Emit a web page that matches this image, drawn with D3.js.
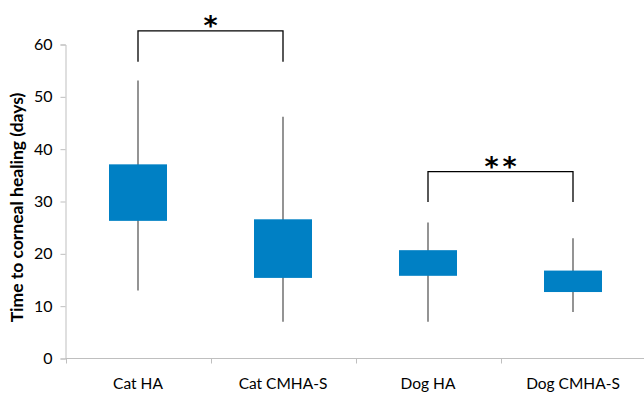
<!DOCTYPE html>
<html>
<head>
<meta charset="utf-8">
<script src="https://cdn.jsdelivr.net/npm/d3@7"></script>
<style>
	body { margin: 0; background: #fff; }
	svg { display: block; }
</style>
</head>
<body>
<div id="chart"></div>
<script>
var groups = ["Cat HA", "Cat CMHA-S", "Dog HA", "Dog CMHA-S"];
var whiskerLow = [13, 7, 7, 8.9];
var boxLow = [26.3, 15.4, 15.8, 12.7];
var boxHigh = [37.1, 26.6, 20.7, 16.8];
var whiskerHigh = [53.1, 46.2, 26, 23];
var yTicks = [0, 10, 20, 30, 40, 50, 60];

// significance brackets: from group, to group, top, leg bottom, number of stars
var brackets = [
	{ from: "Cat HA", to: "Cat CMHA-S", top: 62.6, low: 56.7, stars: 1 },
	{ from: "Dog HA", to: "Dog CMHA-S", top: 35.7, low: 29.9, stars: 2 }
];

var width = 644,
	height = 394,
	x0 = 65.5,
	xEnd = 645.5,
	yTop = 44.5,
	yBot = 358.5;

var svg = d3.select("#chart")
	.append("svg")
	.attr("width", width)
	.attr("height", height)
	.style("font-family", "Lato, 'Open Sans', sans-serif");

var x = d3.scaleBand().domain(groups).range([x0, xEnd]);
var y = d3.scaleLinear().domain([0, 60]).range([yBot, yTop]);

var axisColor = "#bfbfbf";

// y axis
var yAxis = svg.append("g")
	.attr("transform", "translate(" + x0 + ",0)")
	.call(d3.axisLeft(y).tickValues(yTicks).tickSize(5).tickPadding(8));
yAxis.select(".domain").attr("stroke", axisColor);
yAxis.selectAll(".tick line").attr("stroke", axisColor);
yAxis.selectAll("text")
	.attr("fill", "#000")
	.style("font-size", "16px")
	.style("font-family", "Lato, sans-serif");

// x axis, with ticks on the band edges
var xa = svg.append("g").attr("transform", "translate(0," + yBot + ")");
xa.append("line")
	.attr("x1", x0).attr("x2", width)
	.attr("stroke", axisColor);
xa.selectAll(".xt")
	.data(groups)
	.join("line")
	.attr("class", "xt")
	.attr("x1", function (d) { return Math.round(x(d)) + 0.5; })
	.attr("x2", function (d) { return Math.round(x(d)) + 0.5; })
	.attr("y1", 0).attr("y2", 5)
	.attr("stroke", axisColor);
xa.selectAll(".xl")
	.data(groups)
	.join("text")
	.attr("class", "xl")
	.attr("x", function (d) { return x(d) + x.bandwidth() / 2; })
	.attr("y", 30)
	.attr("text-anchor", "middle")
	.style("font-size", "15.5px")
	.text(function (d) { return d; });

// y title
svg.append("text")
	.attr("transform", "translate(23," + ((yTop + yBot) / 2 + 6) + ") rotate(-90)")
	.attr("text-anchor", "middle")
	.style("font-size", "17.5px")
	.style("font-weight", "bold")
	.text("Time to corneal healing (days)");

var boxW = 58;

var cell = svg.selectAll(".box")
	.data(groups)
	.join("g")
	.attr("class", "box")
	.attr("transform", function (d) {
		return "translate(" + (x(d) + x.bandwidth() / 2) + ",0)";
	});

cell.append("line")
	.attr("x1", 0).attr("x2", 0)
	.attr("y1", function (d, i) { return y(whiskerHigh[i]); })
	.attr("y2", function (d, i) { return y(whiskerLow[i]); })
	.attr("stroke", "#666")
	.attr("stroke-width", 1.4);

cell.append("rect")
	.attr("x", -boxW / 2)
	.attr("width", boxW)
	.attr("y", function (d, i) { return y(boxHigh[i]); })
	.attr("height", function (d, i) { return y(boxLow[i]) - y(boxHigh[i]); })
	.attr("fill", "#0080c4");

// brackets
function cx(g) {
	return x(g) + x.bandwidth() / 2;
}

brackets.forEach(function (b) {
	var xa1 = cx(b.from), xa2 = cx(b.to), mid = (xa1 + xa2) / 2;
	svg.append("path")
		.attr("d", "M" + xa1 + "," + y(b.low) + "V" + y(b.top) + "H" + xa2 + "V" + y(b.low))
		.attr("fill", "none")
		.attr("stroke", "#000")
		.attr("stroke-width", 1.3);
	d3.range(b.stars).forEach(function (k) {
		svg.append("text")
			.attr("x", mid + (k - (b.stars - 1) / 2) * 18)
			.attr("y", y(b.top) + 4)
			.attr("text-anchor", "middle")
			.style("font-size", "27px")
			.style("font-weight", "bold")
			.style("font-family", "'DejaVu Sans', sans-serif")
			.text("*");
	});
});
</script>
</body>
</html>
